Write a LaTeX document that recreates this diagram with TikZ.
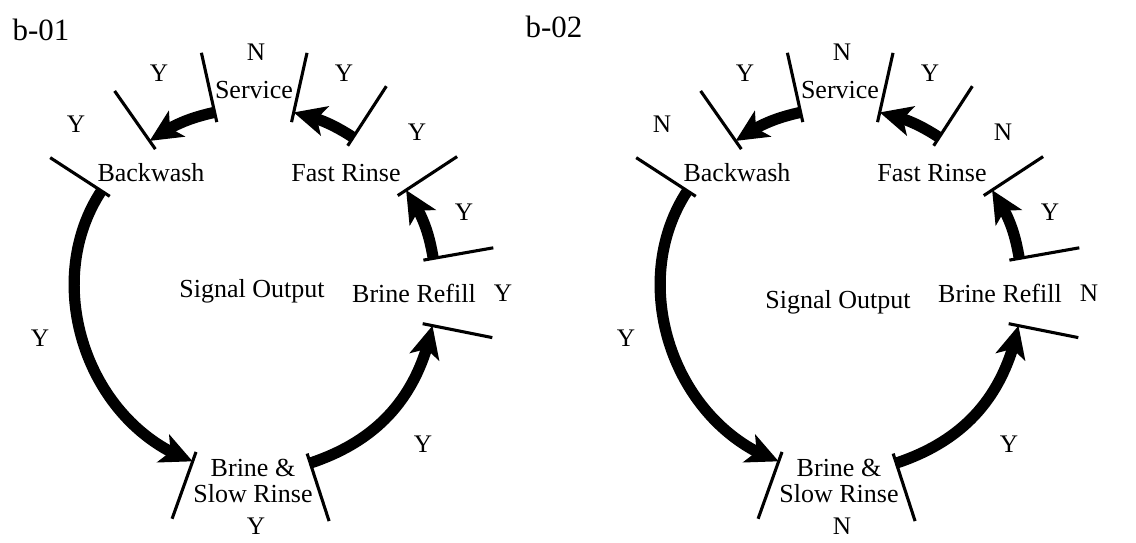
\documentclass[tikz,border=0pt]{standalone}
\usepackage{fontspec}
\setmainfont{Liberation Serif}
\usetikzlibrary{arrows.meta,bending}
\tikzset{
  stagetext/.style={font=\fontsize{18.5}{19}\selectfont,align=center,inner sep=1pt},
  flag/.style={font=\fontsize{18}{20}\selectfont,inner sep=1pt},
  paneltag/.style={font=\fontsize{22}{24}\selectfont,inner sep=1pt},
  gate/.style={line width=2.2pt},
  flow/.style={-{Stealth[length=8mm,width=7.5mm,inset=2mm]},line width=2.8mm}
}

\begin{document}
\begin{tikzpicture}[x=0.025cm,y=0.025cm]
  \useasboundingbox (0,0) rectangle (1136,542);
  \node[paneltag] (tag1) at (41,512) {b-01};
  \node[paneltag] (tag2) at (554,515) {b-02};
  \foreach \p/\cx/\sv/\bw/\fr/\br/\bs/\oy in {1/254/N/Y/Y/Y/Y/-1, 2/840/N/N/N/N/N/-12}{
    \begin{scope}[shift={(\cx,252)}]
      % stage gates
      \foreach \a in {77.4,102.5,125,147,250.3,288,348.7,10,33.3,57}
        \draw[gate] (\a:172) -- (\a:243);
      \coordinate (svin\p) at (77.4:182);
      \coordinate (svout\p) at (102.5:182);
      \coordinate (bwin\p) at (125:182);
      \coordinate (bwout\p) at (147:182);
      \coordinate (bsin\p) at (250.3:182);
      \coordinate (bsout\p) at (288:182);
      \coordinate (brin\p) at (348.7:182);
      \coordinate (brout\p) at (10:182);
      \coordinate (frin\p) at (33.3:182);
      \coordinate (frout\p) at (57:182);
      % stages
      \node[stagetext] (svc\p) at (0,200) {Service};
      \node[stagetext] (bkw\p) at (-103,117) {Backwash};
      \node[stagetext] (fst\p) at (92,117) {Fast Rinse};
      \node[stagetext] (brf\p) at (160,-3) {Brine Refill};
      \node[stagetext] (bsr\p) at (-1,-191) {Brine \&\\Slow Rinse};
      \node[stagetext] (sig\p) at (-2,\oy) {Signal Output};
      % signal states
      \node[flag] (svf\p) at (2,238) {\sv};
      \node[flag] (bwf\p) at (-178,166) {\bw};
      \node[flag] (frf\p) at (163,158) {\fr};
      \node[flag] (brf\p) at (249,-3) {\br};
      \node[flag] (bsf\p) at (2,-236) {\bs};
      \node[flag] (t1\p) at (-95,217) {Y};
      \node[flag] (t2\p) at (-214,-48) {Y};
      \node[flag] (t3\p) at (169,-154) {Y};
      \node[flag] (t4\p) at (210,78) {Y};
      \node[flag] (t5\p) at (90,217) {Y};
      % cycle
      \draw[flow] (svout\p) to[bend right=11] (bwin\p);
      \draw[flow] (bwout\p) to[bend right=52] (bsin\p);
      \draw[flow] (bsout\p) to[bend right=30] (brin\p);
      \draw[flow] (brout\p) to[bend right=12] (frin\p);
      \draw[flow] (frout\p) to[bend right=10] (svin\p);
    \end{scope}
  }
\end{tikzpicture}
\end{document}
